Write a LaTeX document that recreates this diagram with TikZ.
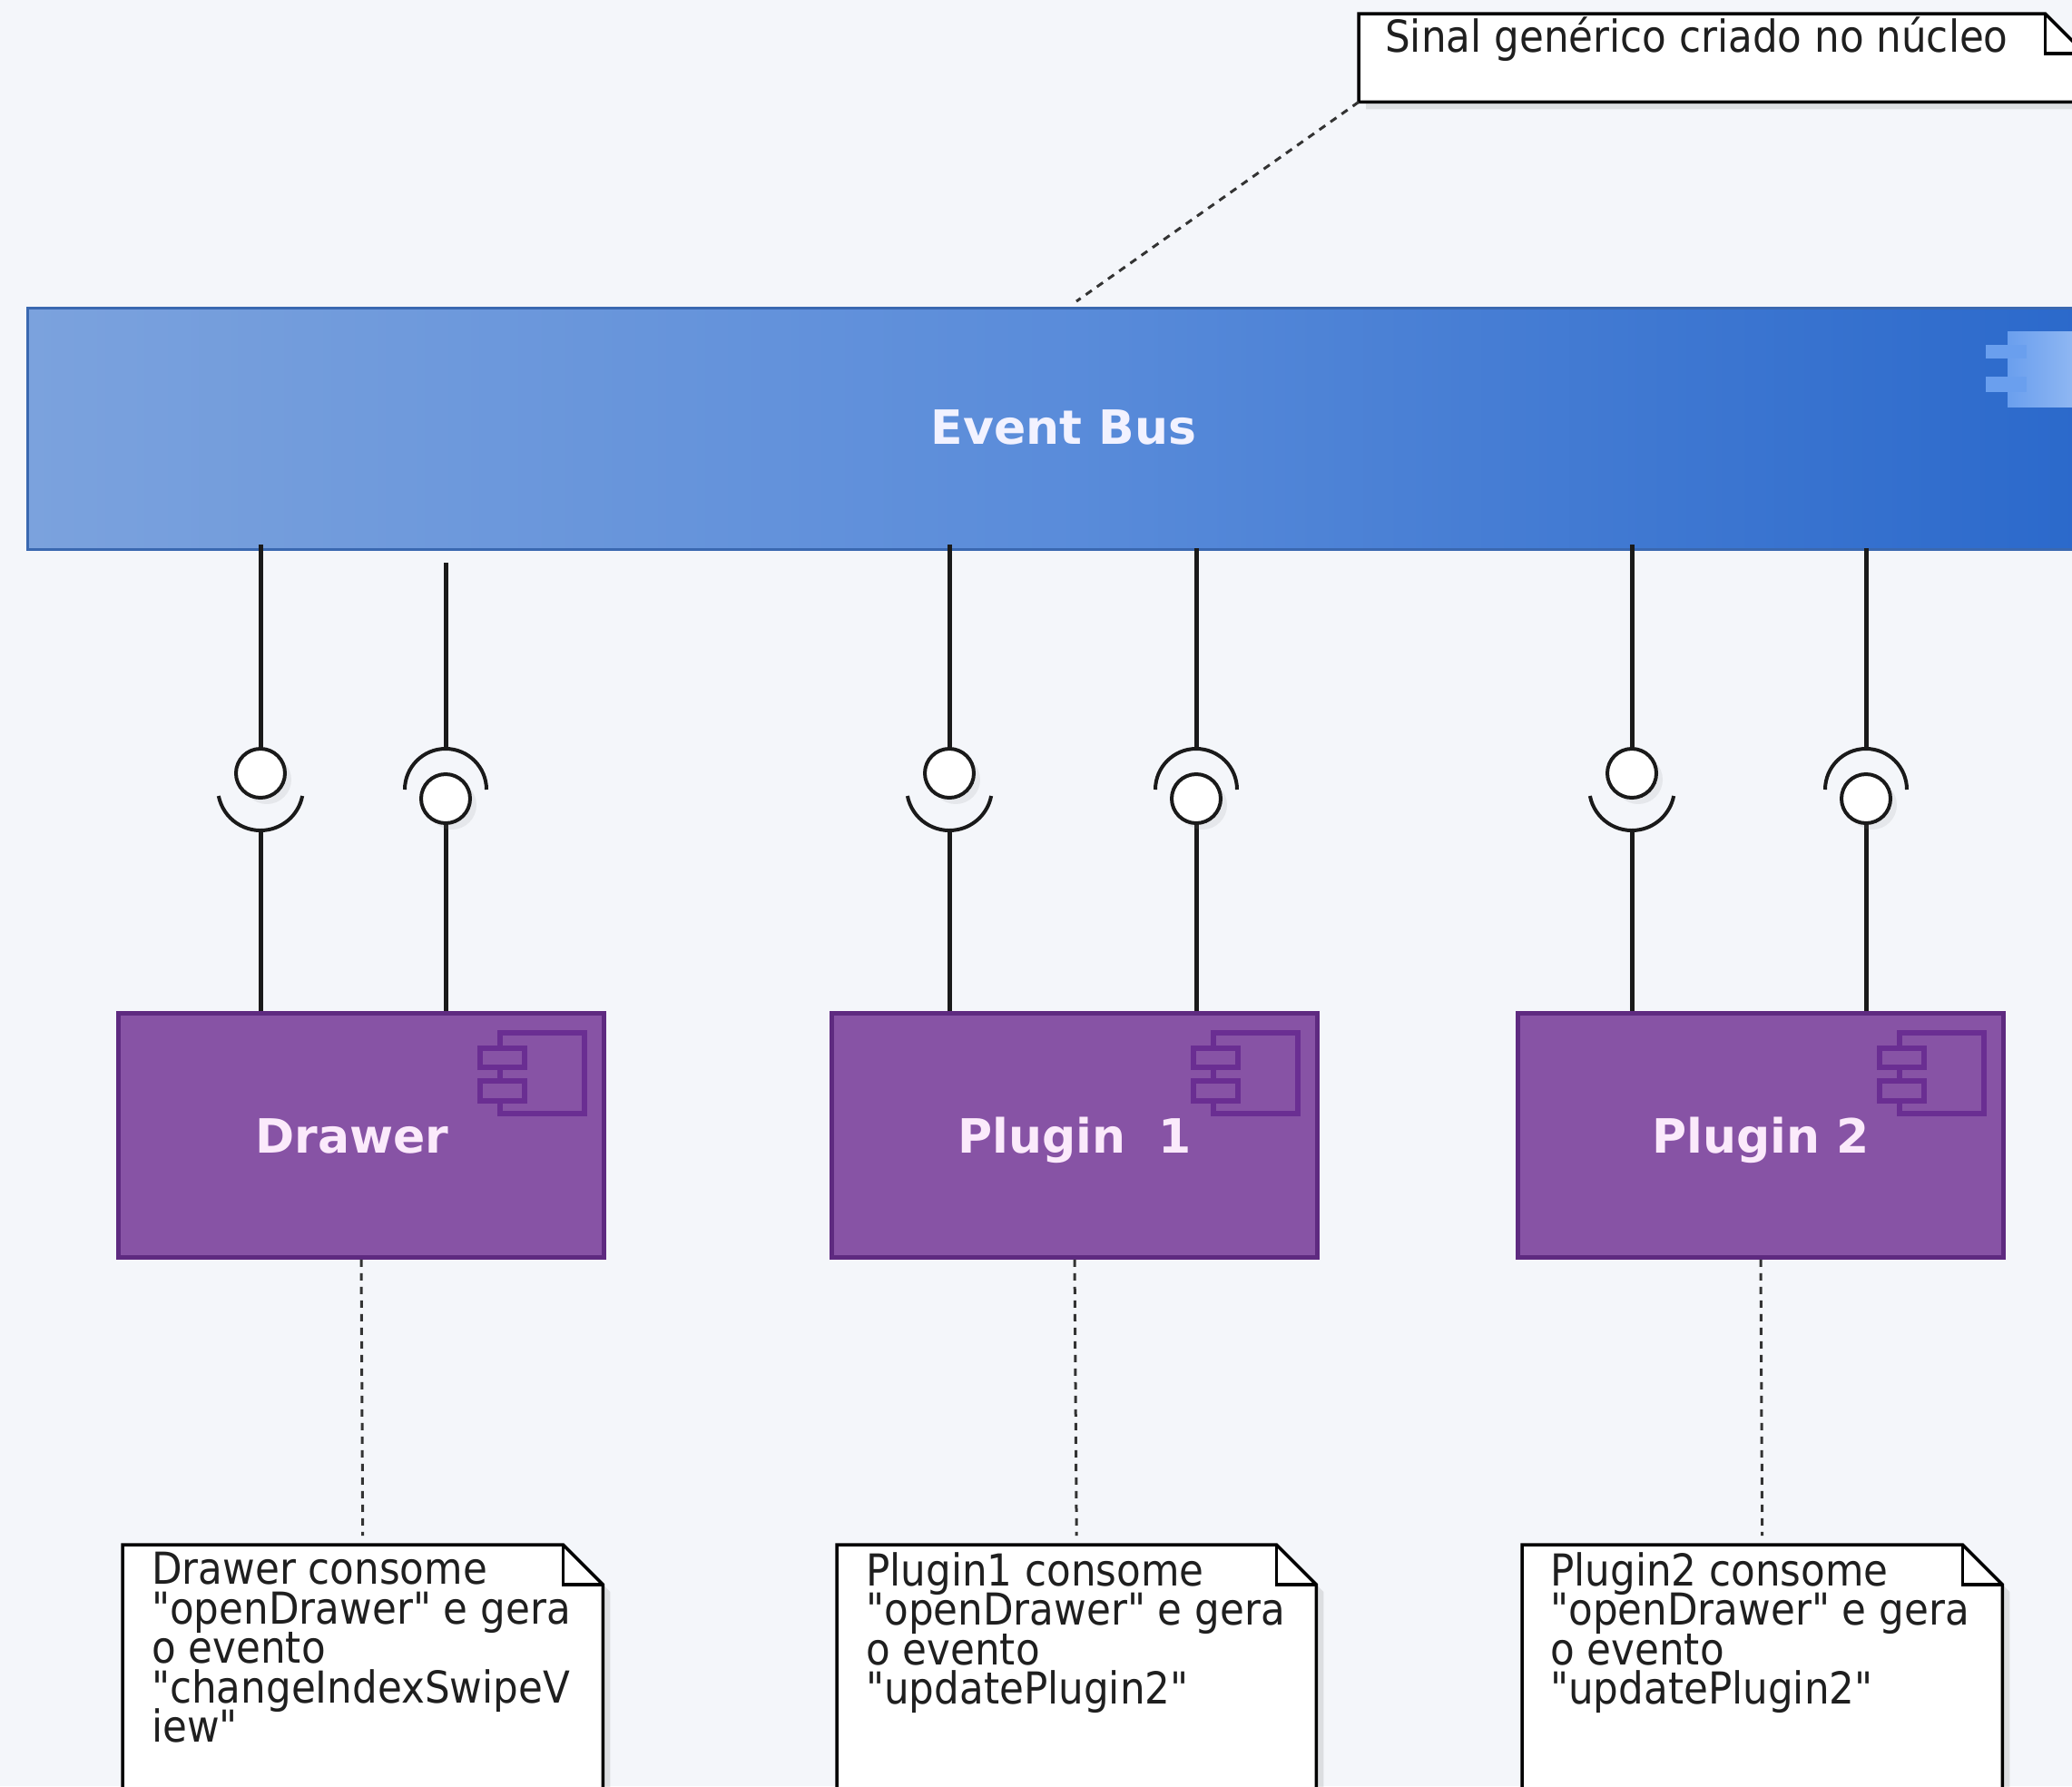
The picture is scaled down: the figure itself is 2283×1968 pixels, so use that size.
\documentclass[tikz,border=0pt]{standalone}
\usepackage{fontspec}
\setmainfont{DejaVu Sans}
\newfontfamily\notefont{DejaVu Sans}[FakeStretch=0.9]
\newcommand{\notesetup}{\notefont\fontsize{48.5}{43.6}\selectfont\lineskiplimit=-100pt\relax\lineskip=0pt\relax}
\usetikzlibrary{shadows,calc}
\definecolor{bg}{HTML}{F4F6FA}
\definecolor{busL}{HTML}{7BA2DD}
\definecolor{busM}{HTML}{5A8CDA}
\definecolor{busR}{HTML}{2B69CB}
\definecolor{busB}{HTML}{3A68B0}
\definecolor{busI}{HTML}{6A9FEE}
\definecolor{compF}{HTML}{8753A5}
\definecolor{compB}{HTML}{5E2A80}
\definecolor{compI}{HTML}{6A2E92}
\definecolor{compT}{HTML}{FBEAFB}
\definecolor{lineC}{HTML}{1A1A1A}
\tikzset{
  busbox/.style={rectangle, draw=busB, line width=2.5pt, left color=busL, right color=busR, middle color=busM, minimum height=266pt, inner sep=0pt},
  bustext/.style={font=\fontsize{52}{60}\selectfont\bfseries, text=white!95!blue, inner sep=0pt},
  compbox/.style={rectangle, draw=compB, line width=4.5pt, fill=compF, minimum width=535pt, minimum height=269pt, inner sep=0pt, text=compT, text height=38pt, text depth=0pt, font=\fontsize{52}{60}\selectfont\bfseries},
  iconline/.style={draw=compI, line width=6pt, fill=compF},
  ball/.style={circle, draw=lineC, line width=4pt, fill=white, minimum size=54pt, inner sep=0pt, drop shadow={shadow xshift=7pt, shadow yshift=-7pt, opacity=0.12}},
  sockarc/.style={draw=lineC, line width=4pt},
  wire/.style={draw=lineC, line width=5pt},
  notebox/.style={rectangle, draw=none, inner sep=0pt, anchor=north west},
  noteline/.style={draw=black, line width=3.5pt, fill=white, drop shadow={shadow xshift=8pt, shadow yshift=-8pt, opacity=0.2}},
  notetext/.style={anchor=north west, inner sep=0pt, align=left, text=black!88, font=\notesetup},
  dashline/.style={draw=black!80, line width=3pt, dash pattern=on 8pt off 7pt}
}
\newcommand{\NoteOutline}[1]{%
  \path[noteline] (#1.north west) -- ($(#1.north east)+(-44pt,0)$) -- ($(#1.north east)+(0,-44pt)$) -- (#1.south east) -- (#1.south west) -- cycle;
  \draw[line width=3.5pt] ($(#1.north east)+(-44pt,0)$) |- ($(#1.north east)+(0,-44pt)$);
}
\newcommand{\CompIcon}[1]{%
  \begin{scope}[shift={(#1.north east)}]
    \draw[iconline] (-117pt,-24pt) rectangle (-24pt,-113pt);
    \draw[iconline] (-139pt,-41pt) rectangle (-90pt,-62pt);
    \draw[iconline] (-139pt,-77pt) rectangle (-90pt,-99pt);
  \end{scope}
}
\begin{document}
\begin{tikzpicture}[x=1pt,y=1pt]
\useasboundingbox (0,0) rectangle (2283,-1968);
\fill[bg] (0,0) rectangle (2283,-1968);
\begin{scope}
\clip (0,0) rectangle (2283,-1968);

% top note
\node[notebox, minimum width=800pt, minimum height=97pt] (topnote) at (1497,-15) {};
\NoteOutline{topnote}
\node[notetext, anchor=base west] (topnotetext) at (1526,-57) {Sinal genérico criado no núcleo};

% event bus
\node[busbox, anchor=north west, minimum width=2264pt] (bus) at (29,-338) {};
\node[bustext] (bustitle) at (1172,-471) {Event Bus};
\draw[draw=none, left color=busI, right color=busI!70!white] (2212,-365) rectangle (2300,-448);
\fill[busI] (2188,-380) rectangle (2233,-395);
\fill[busI] (2188,-415) rectangle (2233,-432);
\coordinate (busnote) at (1186,-332);
\draw[dashline] (topnote.south west) -- (busnote);

% components
\node[compbox] (drawer) at (398,-1251) {\hspace*{-20pt}Drawer};
\node[compbox] (plugin1) at (1184,-1251) {Plugin~~1};
\node[compbox] (plugin2) at (1940,-1251) {Plugin 2};
\CompIcon{drawer}
\CompIcon{plugin1}
\CompIcon{plugin2}

% interface columns: provided by the bus (ball on top, socket below)
\foreach \n/\x/\c in {1/287/drawer, 3/1046/plugin1, 5/1798/plugin2}{
  \coordinate (s\n) at (\x,-868);
  \draw[wire] (\x,-600) -- (\x,-827);
  \draw[wire] ($(s\n)+(0,-47pt)$) -- (\c.north -| s\n);
  \draw[sockarc] ($(s\n)+(191:47pt)$) arc[start angle=191, end angle=349, radius=47pt];
  \node[ball] (b\n) at (\x,-852) {};
}
% interface columns: socket on top, ball below
\foreach \n/\x/\c/\t in {2/491/drawer/620, 4/1318/plugin1/604, 6/2056/plugin2/604}{
  \coordinate (s\n) at (\x,-870);
  \coordinate (top\n) at (\x,-\t);
  \draw[wire] (top\n) -- ($(s\n)+(0,45pt)$);
  \draw[sockarc] ($(s\n)+(0:45pt)$) arc[start angle=0, end angle=180, radius=45pt];
  \draw[wire] (\x,-905) -- (\c.north -| s\n);
  \node[ball] (b\n) at (\x,-880) {};
}

% notes
\node[notebox, minimum width=529pt, minimum height=320pt] (n1) at (135,-1702) {};
\node[notebox, minimum width=528pt, minimum height=320pt] (n2) at (922,-1702) {};
\node[notebox, minimum width=529pt, minimum height=320pt] (n3) at (1677,-1702) {};
\NoteOutline{n1}
\NoteOutline{n2}
\NoteOutline{n3}
\node[notetext] (t1) at (167,-1710) {Drawer consome\\"openDrawer" e gera\\o evento\\"changeIndexSwipeV\\iew"};
\node[notetext] (t2) at (954,-1710) {Plugin1 consome\\"openDrawer" e gera\\o evento\\"updatePlugin2"};
\node[notetext] (t3) at (1708,-1710) {Plugin2 consome\\"openDrawer" e gera\\o evento\\"updatePlugin2"};

\draw[dashline] (drawer.south) -- ($(n1.north)+(0,10pt)$);
\draw[dashline] (plugin1.south) -- ($(n2.north)+(0,10pt)$);
\draw[dashline] (plugin2.south) -- ($(n3.north)+(0,10pt)$);
\end{scope}
\end{tikzpicture}
\end{document}
